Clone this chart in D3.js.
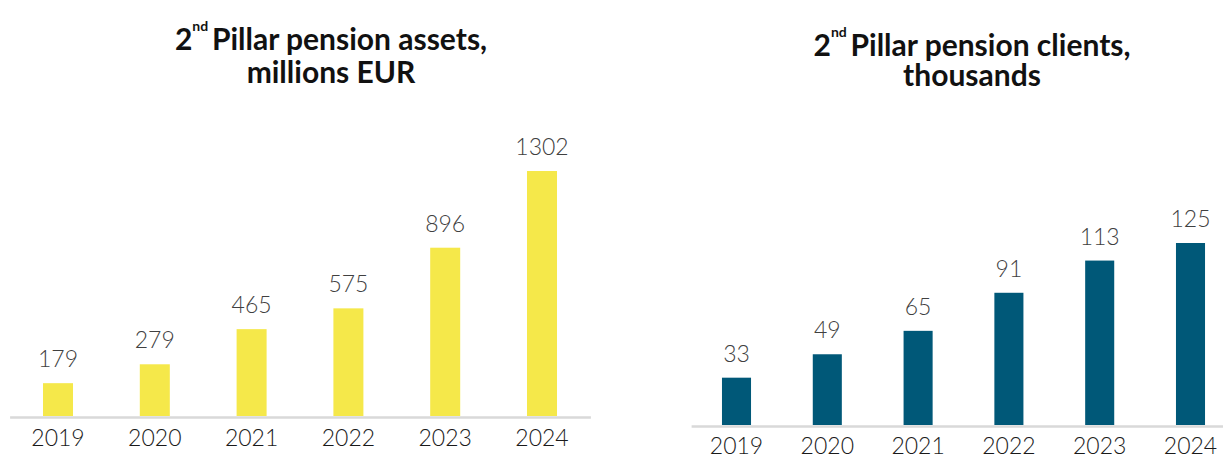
<!DOCTYPE html>
<html>
<head>
<meta charset="utf-8">
<script src="https://cdn.jsdelivr.net/npm/d3@7"></script>
<style>
  html, body { margin: 0; padding: 0; background: #fff; }
  svg { display: block; }
</style>
</head>
<body>
<svg id="chart" width="1223" height="456"></svg>
<script>
const years = ["2019", "2020", "2021", "2022", "2023", "2024"];
const assetsValues = [179, 279, 465, 575, 896, 1302];
const clientsValues = [33, 49, 65, 91, 113, 125];
const assetsTitle = ["Pillar pension assets,", "millions EUR"];
const clientsTitle = ["Pillar pension clients,", "thousands"];

const svg = d3.select("#chart");
const labelFont = "Lato, 'Open Sans', sans-serif";

function drawChart(cfg) {
  const g = svg.append("g");
  const x = d3.scaleBand().domain(years).range(cfg.xRange)
    .paddingInner(cfg.padIn).paddingOuter(cfg.padIn / 2);
  const y = d3.scaleLinear().domain([0, d3.max(cfg.values)]).range([cfg.base, cfg.top]);
  const data = years.map((yr, i) => ({ yr, v: cfg.values[i] }));

  // baseline axis
  const axis = d3.axisBottom(x).tickSize(0).tickPadding(cfg.tickPad);
  const ax = g.append("g").attr("transform", `translate(0,${cfg.base})`).call(axis);
  ax.select(".domain").attr("stroke", "#d9d9d9").attr("stroke-width", 2.5);
  ax.selectAll("text").attr("font-family", labelFont).attr("font-size", 23)
    .attr("font-weight", 300).attr("fill", "#1a1a1a");

  g.selectAll("rect.bar").data(data).enter().append("rect")
    .attr("class", "bar")
    .attr("x", d => x(d.yr))
    .attr("width", x.bandwidth())
    .attr("y", d => y(d.v))
    .attr("height", d => y(0) - y(d.v) - 1)
    .attr("fill", cfg.color);

  g.selectAll("text.val").data(data).enter().append("text")
    .attr("class", "val")
    .attr("x", d => x(d.yr) + x.bandwidth() / 2)
    .attr("y", d => y(d.v) - 16)
    .attr("text-anchor", "middle")
    .attr("font-family", labelFont).attr("font-size", 23).attr("font-weight", 300)
    .attr("fill", "#404040")
    .text(d => d.v);

  // title
  const t = g.append("text").attr("text-anchor", "middle")
    .attr("font-family", labelFont).attr("font-weight", 700)
    .attr("font-size", 30).attr("fill", "#111");
  const l1 = t.append("tspan").attr("x", cfg.titleX).attr("y", cfg.titleY);
  l1.append("tspan").text("2");
  l1.append("tspan").attr("font-size", 14).attr("dy", -19).text("nd");
  l1.append("tspan").attr("dy", 19).text("\u2009" + cfg.title[0]);
  t.append("tspan").attr("x", cfg.titleX).attr("y", cfg.titleY + cfg.lineGap).text(cfg.title[1]);
}

drawChart({
  values: assetsValues, color: "#f5e84a", xRange: [9.6, 590.4], padIn: 0.69,
  base: 417, top: 171, tickPad: 13, title: assetsTitle, titleX: 331, titleY: 50, lineGap: 33
});
drawChart({
  values: clientsValues, color: "#005878", xRange: [691.1, 1235.9], padIn: 0.68,
  base: 426, top: 243, tickPad: 12, title: clientsTitle, titleX: 972, titleY: 56, lineGap: 30
});
</script>
</body>
</html>
